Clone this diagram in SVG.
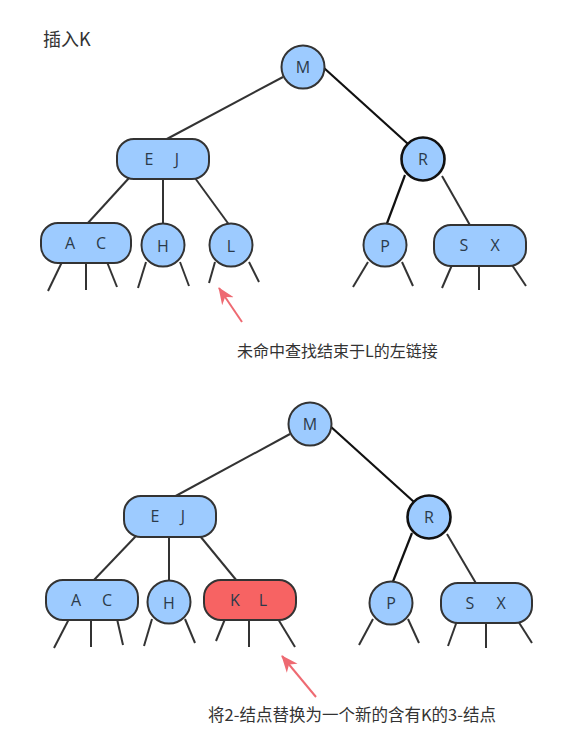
<svg xmlns="http://www.w3.org/2000/svg" width="585" height="735" viewBox="0 0 585 735">
<style>
.n{fill:#9dcbff;stroke:#333;stroke-width:2}
.r{fill:#9dcbff;stroke:#111;stroke-width:2.6}
.red{fill:#f76363;stroke:#333;stroke-width:2}
.lt{font-family:"Open Sans","Noto Sans",sans-serif;font-size:16px;fill:#2b3a4a;text-anchor:middle;dominant-baseline:central}
.e{stroke:#333;stroke-width:2;fill:none}
.eb{stroke:#111;stroke-width:2.2;fill:none}
.cap{font-family:"Noto Sans CJK SC","Noto Sans",sans-serif;fill:#333}
.arr{stroke:#ee6a72;stroke-width:2;fill:none}
</style>
<defs>
<marker id="ah" markerUnits="userSpaceOnUse" markerWidth="18" markerHeight="16" viewBox="0 0 18 16" refX="16" refY="8" orient="auto">
<path d="M0,1 L17,8 L0,15 L5,8 Z" fill="#ee6a72"/>
</marker>
</defs>
<rect width="585" height="735" fill="#fff"/>
<text class="cap" x="43" y="46" font-size="18">插入K</text>

<g id="connectors">
<line class="e" x1="283" y1="77" x2="165" y2="140"/>
<line class="eb" x1="324" y1="68" x2="408" y2="144"/>
<line class="e" x1="129" y1="178" x2="87" y2="224"/>
<line class="e" x1="163" y1="178" x2="163" y2="226"/>
<line class="e" x1="195" y1="178" x2="230" y2="226"/>
<line class="eb" x1="405" y1="175" x2="386" y2="226"/>
<line class="e" x1="442" y1="176" x2="471" y2="227"/>
<line class="e" x1="62" y1="262" x2="48" y2="291"/>
<line class="e" x1="86" y1="262" x2="86" y2="290"/>
<line class="e" x1="107" y1="262" x2="117" y2="287"/>
<line class="e" x1="146" y1="262" x2="138" y2="288"/>
<line class="e" x1="180" y1="262" x2="189" y2="286"/>
<line class="e" x1="215" y1="262" x2="209" y2="283"/>
<line class="e" x1="249" y1="262" x2="259" y2="282"/>
<line class="e" x1="368" y1="262" x2="353" y2="287"/>
<line class="e" x1="402" y1="262" x2="413" y2="286"/>
<line class="e" x1="452" y1="265" x2="442" y2="288"/>
<line class="e" x1="479" y1="265" x2="479" y2="290"/>
<line class="e" x1="512" y1="265" x2="526" y2="286"/>
<line class="arr" x1="242" y1="322" x2="219" y2="288" marker-end="url(#ah)"/>

<line class="e" x1="290" y1="434" x2="172" y2="498"/>
<line class="eb" x1="330" y1="426" x2="414" y2="502"/>
<line class="e" x1="136" y1="536" x2="93" y2="581"/>
<line class="e" x1="169" y1="536" x2="169" y2="582"/>
<line class="e" x1="200" y1="536" x2="237" y2="581"/>
<line class="eb" x1="412" y1="533" x2="392" y2="584"/>
<line class="e" x1="447" y1="534" x2="477" y2="585"/>
<line class="e" x1="69" y1="619" x2="54" y2="648"/>
<line class="e" x1="91" y1="619" x2="91" y2="647"/>
<line class="e" x1="117" y1="619" x2="123" y2="645"/>
<line class="e" x1="152" y1="619" x2="144" y2="646"/>
<line class="e" x1="185" y1="619" x2="195" y2="643"/>
<line class="e" x1="225" y1="619" x2="216" y2="641"/>
<line class="e" x1="249" y1="619" x2="249" y2="647"/>
<line class="e" x1="278" y1="619" x2="295" y2="647"/>
<line class="e" x1="373" y1="619" x2="359" y2="645"/>
<line class="e" x1="408" y1="619" x2="419" y2="643"/>
<line class="e" x1="457" y1="621" x2="448" y2="646"/>
<line class="e" x1="486" y1="621" x2="486" y2="648"/>
<line class="e" x1="518" y1="621" x2="532" y2="643"/>
<line class="arr" x1="316" y1="697" x2="282" y2="656" marker-end="url(#ah)"/>
</g>

<g id="t1-M"><circle class="n" cx="303" cy="67" r="21.5"/><text class="lt" x="303" y="67">M</text></g>
<g id="t1-EJ"><rect class="n" x="117" y="139" width="92" height="40" rx="17"/><text class="lt" x="149" y="159">E</text><text class="lt" x="177" y="159">J</text></g>
<g id="t1-R"><circle class="r" cx="423" cy="159" r="21.5"/><text class="lt" x="423" y="159">R</text></g>
<g id="t1-AC"><rect class="n" x="41" y="223" width="90" height="40" rx="17"/><text class="lt" x="70" y="243">A</text><text class="lt" x="101" y="243">C</text></g>
<g id="t1-H"><circle class="n" cx="163" cy="245" r="21.5"/><text class="lt" x="163" y="246">H</text></g>
<g id="t1-L"><circle class="n" cx="231" cy="245" r="21.5"/><text class="lt" x="231" y="246">L</text></g>
<g id="t1-P"><circle class="n" cx="385" cy="245" r="21.5"/><text class="lt" x="385" y="246">P</text></g>
<g id="t1-SX"><rect class="n" x="434" y="225" width="92" height="41" rx="17"/><text class="lt" x="464" y="245">S</text><text class="lt" x="495" y="245">X</text></g>
<text class="cap" x="237" y="357" font-size="16">未命中查找结束于L的左链接</text>

<g id="t2-M"><circle class="n" cx="310" cy="424" r="21.5"/><text class="lt" x="310" y="424">M</text></g>
<g id="t2-EJ"><rect class="n" x="124" y="496" width="92" height="41" rx="17"/><text class="lt" x="155" y="516">E</text><text class="lt" x="183" y="516">J</text></g>
<g id="t2-R"><circle class="r" cx="429" cy="517" r="21.5"/><text class="lt" x="429" y="517">R</text></g>
<g id="t2-AC"><rect class="n" x="46" y="580" width="92" height="40" rx="17"/><text class="lt" x="76" y="600">A</text><text class="lt" x="107" y="600">C</text></g>
<g id="t2-H"><circle class="n" cx="169" cy="602" r="21.5"/><text class="lt" x="169" y="603">H</text></g>
<g id="t2-KL"><rect class="red" x="204" y="580" width="92" height="40" rx="17"/><text class="lt" x="235" y="600">K</text><text class="lt" x="263" y="600">L</text></g>
<g id="t2-P"><circle class="n" cx="391" cy="603" r="21.5"/><text class="lt" x="391" y="603">P</text></g>
<g id="t2-SX"><rect class="n" x="441" y="583" width="91" height="40" rx="17"/><text class="lt" x="470" y="603">S</text><text class="lt" x="501" y="603">X</text></g>
<text class="cap" x="208" y="721" font-size="16.5">将2-结点替换为一个新的含有K的3-结点</text>
</svg>
